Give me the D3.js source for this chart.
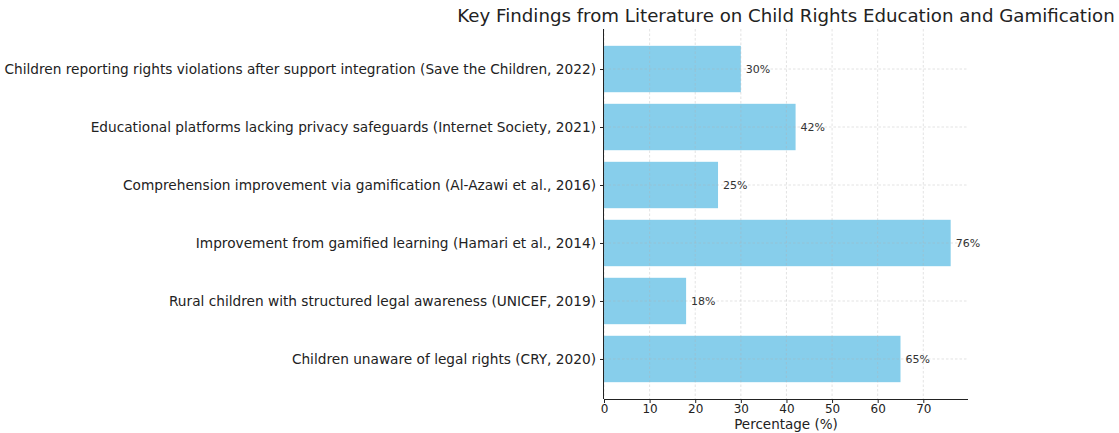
<!DOCTYPE html>
<html><head><meta charset="utf-8">
<script src="https://cdn.jsdelivr.net/npm/d3@7"></script>
<style>body{margin:0;background:#fff}svg{display:block}text{font-family:"DejaVu Sans",sans-serif}</style>
</head><body><svg id="c" width="1119" height="433"></svg>
<script>
const categories = [
  "Children unaware of legal rights (CRY, 2020)",
  "Rural children with structured legal awareness (UNICEF, 2019)",
  "Improvement from gamified learning (Hamari et al., 2014)",
  "Comprehension improvement via gamification (Al-Azawi et al., 2016)",
  "Educational platforms lacking privacy safeguards (Internet Society, 2021)",
  "Children reporting rights violations after support integration (Save the Children, 2022)"
];
const values = [65, 18, 76, 25, 42, 30];
const xTicks = [0, 10, 20, 30, 40, 50, 60, 70];
const title = "Key Findings from Literature on Child Rights Education and Gamification";
const xLabel = "Percentage (%)";

const svg = d3.select("#c");
const L = 604, R = 968, T = 29, B = 399;
const x = d3.scaleLinear().domain([0, 79.8]).range([L, R]);
const y = d3.scaleLinear().domain([-0.69, categories.length - 1 + 0.69]).range([B, T]);
const barH = (y(0) - y(0.8));

svg.append("g").selectAll("rect").data(values).enter().append("rect")
  .attr("x", x(0)).attr("y", (d, i) => y(i) - barH / 2)
  .attr("width", d => x(d) - x(0)).attr("height", barH)
  .attr("fill", "#87CEEB");
const grid = svg.append("g").attr("stroke", "#b0b0b0").attr("stroke-opacity", 0.45)
  .attr("stroke-dasharray", "2.5,2").attr("stroke-width", 0.8);
xTicks.forEach(t => grid.append("line").attr("x1", x(t)).attr("x2", x(t)).attr("y1", T).attr("y2", B));
categories.forEach((c, i) => grid.append("line").attr("x1", L).attr("x2", R).attr("y1", y(i)).attr("y2", y(i)));

svg.selectAll("text.val").data(values).enter().append("text")
  .attr("x", d => x(d) + 5).attr("y", (d, i) => y(i)).attr("dy", "0.35em")
  .attr("font-size", 11).attr("fill", "#333").text(d => d + "%");

const xa = svg.append("g").attr("transform", `translate(0,${B})`)
  .call(d3.axisBottom(x).tickValues(xTicks).tickSize(4).tickPadding(3).tickSizeOuter(0));
xa.select(".domain").attr("stroke", "#222").attr("d", `M${L},0.5H${R}`);
xa.selectAll("text").attr("font-size", 12).attr("fill", "#222").attr("font-family", "DejaVu Sans")
  .attr("dy", null).attr("y", 13.7);
xa.selectAll(".tick line").attr("stroke", "#222");

const ya = svg.append("g").attr("transform", `translate(${L},0)`)
  .call(d3.axisLeft(y).tickValues(d3.range(categories.length)).tickFormat(i => categories[i]).tickSize(4).tickPadding(4).tickSizeOuter(0));
ya.select(".domain").attr("stroke", "#222").attr("d", `M-0.5,${T}V${B}`);
ya.selectAll("text").attr("font-size", 13.7).attr("fill", "#222").attr("font-family", "DejaVu Sans");
ya.selectAll(".tick line").attr("stroke", "#222");

svg.append("text").attr("x", (L + R) / 2).attr("y", 428.5).attr("text-anchor", "middle")
  .attr("font-size", 13.5).attr("fill", "#222").text(xLabel);
svg.append("text").attr("x", (L + R) / 2).attr("y", 22).attr("text-anchor", "middle")
  .attr("font-size", 18.2).attr("fill", "#222").text(title);
</script></body></html>
